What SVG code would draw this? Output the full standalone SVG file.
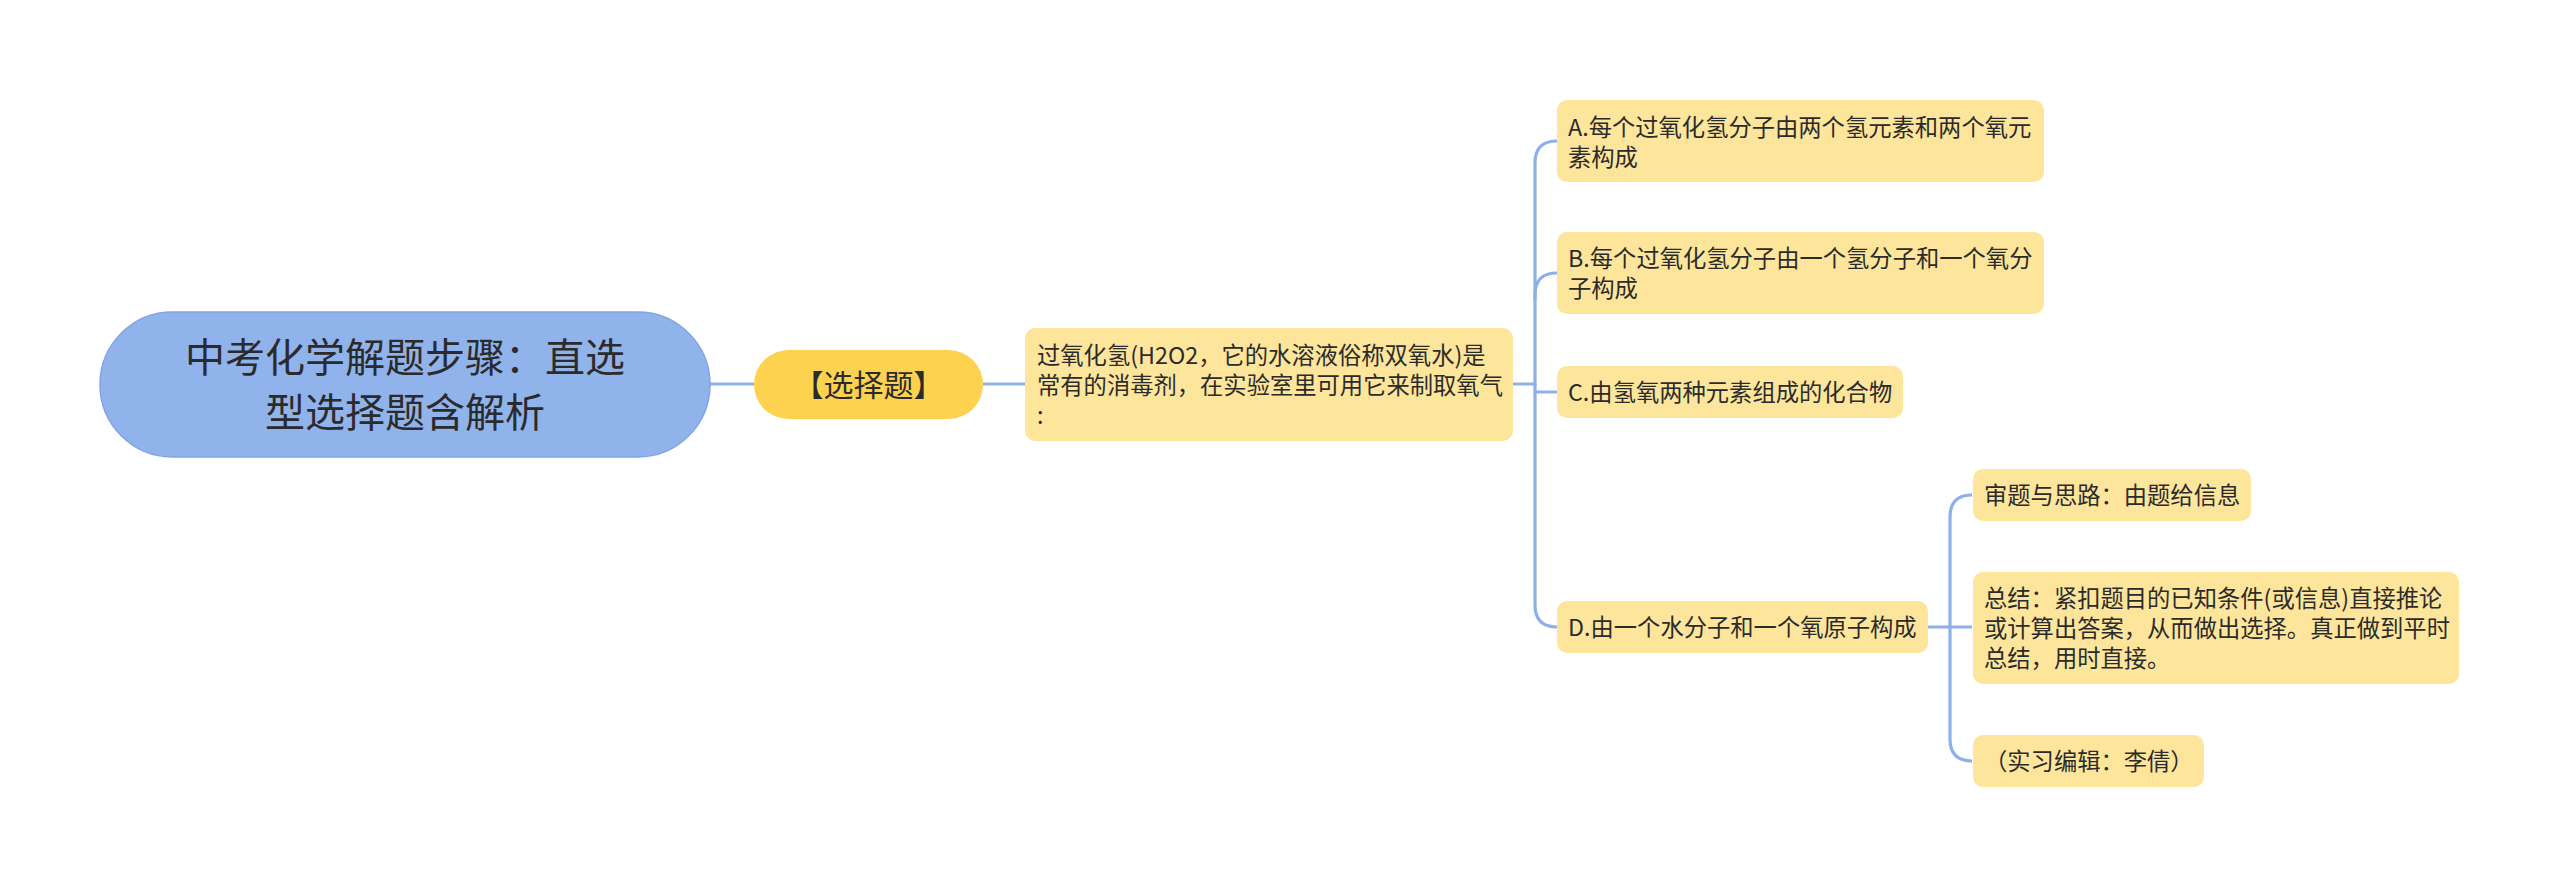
<svg xmlns="http://www.w3.org/2000/svg" width="2560" height="887" viewBox="0 0 2560 887">
<style>
.t{font-family:"Noto Sans CJK SC","Noto Sans",sans-serif;fill:#2b2b2b}
.c{fill:none;stroke:#8eb0e8;stroke-width:3.2}
.leaf{fill:#fde59b}
.s{font-size:23.3px}
</style>
<rect width="2560" height="887" fill="#ffffff"/>
<g id="connectors">
<path class="c" d="M710 384H754"/>
<path class="c" d="M983 384H1025"/>
<path class="c" d="M1513 384H1535V163Q1535 141 1557 141"/>
<path class="c" d="M1535 300V295Q1535 273 1557 273"/>
<path class="c" d="M1535 384V392H1557"/>
<path class="c" d="M1535 392V605Q1535 627 1557 627"/>
<path class="c" d="M1928 627H1972"/>
<path class="c" d="M1950 627V517Q1950 495 1972 495"/>
<path class="c" d="M1950 627V739Q1950 761 1972 761"/>
</g>
<g id="root">
<rect x="100" y="312" width="610" height="145" rx="72.5" fill="#91b3eb" stroke="#80a5e4" stroke-width="1.5"/>
<text class="t" x="405" y="372" font-size="40" text-anchor="middle">中考化学解题步骤：直选</text>
<text class="t" x="405" y="427" font-size="40" text-anchor="middle">型选择题含解析</text>
</g>
<g id="n-choice">
<rect x="754" y="350" width="229" height="69" rx="34.5" fill="#fdd24f"/>
<text class="t" x="868.5" y="396" font-size="30" text-anchor="middle">【选择题】</text>
</g>
<g id="n-h2o2">
<rect class="leaf" x="1025" y="328" width="488" height="113" rx="10"/>
<text class="t s" x="1037" y="364">过氧化氢(H2O2，它的水溶液俗称双氧水)是</text>
<text class="t s" x="1037" y="394">常有的消毒剂，在实验室里可用它来制取氧气</text>
<text class="t s" x="1037" y="424">:</text>
</g>
<g id="n-a">
<rect class="leaf" x="1557" y="100" width="487" height="82" rx="10"/>
<text class="t s" x="1568" y="136">A.每个过氧化氢分子由两个氢元素和两个氧元</text>
<text class="t s" x="1568" y="166">素构成</text>
</g>
<g id="n-b">
<rect class="leaf" x="1557" y="232" width="487" height="82" rx="10"/>
<text class="t s" x="1568" y="267">B.每个过氧化氢分子由一个氢分子和一个氧分</text>
<text class="t s" x="1568" y="297">子构成</text>
</g>
<g id="n-c">
<rect class="leaf" x="1557" y="366" width="346" height="52" rx="10"/>
<text class="t s" x="1568" y="401">C.由氢氧两种元素组成的化合物</text>
</g>
<g id="n-d">
<rect class="leaf" x="1557" y="601" width="371" height="52" rx="10"/>
<text class="t s" x="1568" y="636">D.由一个水分子和一个氧原子构成</text>
</g>
<g id="n-think">
<rect class="leaf" x="1973" y="469" width="278" height="52" rx="10"/>
<text class="t s" x="1984" y="504">审题与思路：由题给信息</text>
</g>
<g id="n-summary">
<rect class="leaf" x="1973" y="572" width="486" height="112" rx="10"/>
<text class="t s" x="1984" y="607">总结：紧扣题目的已知条件(或信息)直接推论</text>
<text class="t s" x="1984" y="637">或计算出答案，从而做出选择。真正做到平时</text>
<text class="t s" x="1984" y="667">总结，用时直接。</text>
</g>
<g id="n-editor">
<rect class="leaf" x="1973" y="735" width="231" height="52" rx="10"/>
<text class="t s" x="1984" y="770">（实习编辑：李倩）</text>
</g>
</svg>
